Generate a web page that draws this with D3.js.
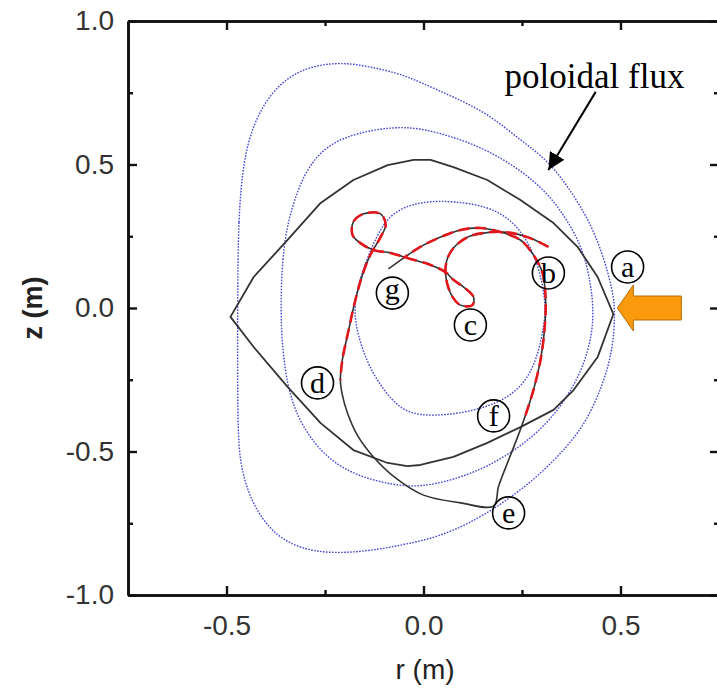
<!DOCTYPE html>
<html>
<head>
<meta charset="utf-8">
<script src="https://cdn.jsdelivr.net/npm/d3@7"></script>
<style>
  html, body { margin: 0; padding: 0; background: #fff; overflow: hidden; }
</style>
</head>
<body>
<div id="chart"></div>
<script>
// axis ticks
const rTicks = [-0.5, 0, 0.5];
const rMinor = [-0.25, 0.25];
const zTicks = [-1, -0.5, 0, 0.5, 1];
const zMinor = [-0.75, -0.25, 0.25, 0.75];

// poloidal flux contours [r, z]
const fluxOuter = [
  [-0.472, 0.003], [-0.470, 0.317], [-0.457, 0.516], [-0.431, 0.645], [-0.388, 0.749],
  [-0.330, 0.819], [-0.261, 0.850], [-0.193, 0.854], [-0.135, 0.840], [-0.066, 0.819],
  [-0.008, 0.787], [0.076, 0.735], [0.162, 0.679], [0.246, 0.585], [0.315, 0.516],
  [0.373, 0.411], [0.424, 0.296], [0.457, 0.178], [0.480, 0.063], [0.487, -0.017],
  [0.480, -0.146], [0.457, -0.261], [0.416, -0.390], [0.365, -0.484], [0.289, -0.589],
  [0.203, -0.679], [0.119, -0.749], [0.036, -0.798], [-0.041, -0.822], [-0.109, -0.840],
  [-0.193, -0.854], [-0.279, -0.850], [-0.345, -0.819], [-0.396, -0.763], [-0.439, -0.669],
  [-0.464, -0.554], [-0.472, -0.436]
];
const fluxMiddle = [
  [-0.363, 0.003], [-0.358, 0.178], [-0.345, 0.296], [-0.320, 0.411], [-0.287, 0.505],
  [-0.236, 0.575], [-0.160, 0.613], [-0.076, 0.631], [-0.008, 0.627], [0.076, 0.596],
  [0.162, 0.551], [0.246, 0.481], [0.315, 0.401], [0.365, 0.307], [0.406, 0.202],
  [0.424, 0.087], [0.431, 0.003], [0.429, -0.087], [0.406, -0.206], [0.365, -0.310],
  [0.315, -0.401], [0.246, -0.484], [0.162, -0.554], [0.076, -0.599], [-0.008, -0.624],
  [-0.076, -0.617], [-0.160, -0.589], [-0.228, -0.540], [-0.279, -0.470], [-0.320, -0.380],
  [-0.345, -0.275], [-0.358, -0.146]
];
const fluxInner = [
  [-0.178, 0.003], [-0.160, 0.108], [-0.135, 0.202], [-0.102, 0.296], [-0.066, 0.341],
  [-0.025, 0.362], [0.018, 0.372], [0.076, 0.372], [0.162, 0.355], [0.221, 0.310],
  [0.264, 0.237], [0.292, 0.143], [0.305, 0.063], [0.310, -0.007], [0.305, -0.066],
  [0.292, -0.157], [0.264, -0.251], [0.213, -0.315], [0.145, -0.352], [0.069, -0.372],
  [-0.008, -0.376], [-0.060, -0.352], [-0.105, -0.280], [-0.142, -0.195], [-0.168, -0.090]
];

// lens-shaped boundary
const lens = [
  [-0.490, -0.031], [-0.431, 0.108], [-0.345, 0.237], [-0.261, 0.366], [-0.178, 0.446],
  [-0.091, 0.498], [-0.025, 0.516], [0.018, 0.516], [0.076, 0.491], [0.162, 0.446],
  [0.246, 0.376], [0.330, 0.296], [0.391, 0.213], [0.442, 0.108], [0.482, -0.021],
  [0.442, -0.171], [0.381, -0.286], [0.330, -0.355], [0.246, -0.415], [0.162, -0.470],
  [0.076, -0.519], [-0.008, -0.547], [-0.041, -0.551], [-0.091, -0.540], [-0.178, -0.495],
  [-0.261, -0.401], [-0.345, -0.275], [-0.431, -0.136]
];

// trajectory a -> g
const traj = [
  [0.317, 0.213], [0.264, 0.247], [0.203, 0.265], [0.152, 0.261], [0.112, 0.247],
  [0.076, 0.209], [0.058, 0.160], [0.058, 0.098], [0.074, 0.038], [0.094, 0.010],
  [0.124, 0.010], [0.127, 0.038], [0.102, 0.073], [0.076, 0.098], [0.056, 0.125],
  [0.018, 0.150], [-0.041, 0.174], [-0.084, 0.192], [-0.127, 0.202], [-0.160, 0.226],
  [-0.180, 0.254], [-0.178, 0.300], [-0.152, 0.328], [-0.109, 0.328], [-0.096, 0.289],
  [-0.109, 0.247], [-0.135, 0.185], [-0.155, 0.115], [-0.173, 0.028], [-0.190, -0.077],
  [-0.206, -0.181], [-0.211, -0.251], [-0.206, -0.303], [-0.193, -0.366], [-0.168, -0.443],
  [-0.127, -0.519], [-0.071, -0.592], [0.000, -0.652], [0.094, -0.679], [0.178, -0.690],
  [0.190, -0.624], [0.213, -0.540], [0.239, -0.449], [0.259, -0.373], [0.279, -0.286],
  [0.297, -0.181], [0.307, -0.077], [0.310, 0.028], [0.302, 0.122], [0.279, 0.185],
  [0.246, 0.237], [0.195, 0.265], [0.145, 0.279], [0.094, 0.272], [0.043, 0.247],
  [-0.008, 0.213], [-0.051, 0.174], [-0.089, 0.136]
];
// parts of the trajectory drawn in red (index ranges)
const redRanges = [[0, 31], [43, 56]];

// circled labels
const labels = ['a', 'b', 'c', 'd', 'e', 'f', 'g'];
const labelR = [0.518, 0.317, 0.119, -0.269, 0.216, 0.178, -0.079];
const labelZ = [0.143, 0.122, -0.059, -0.261, -0.714, -0.376, 0.052];

const W = 717, H = 697;
const x = d3.scaleLinear().domain([-0.75, 0.75]).range([128, 719]);
const y = d3.scaleLinear().domain([-1, 1]).range([595, 21]);

const svg = d3.select('#chart').append('svg')
  .attr('width', W).attr('height', H)
  .style('font-family', '"Liberation Sans", Arial, sans-serif');

const defs = svg.append('defs');
defs.append('clipPath').attr('id', 'plotClip')
  .append('rect').attr('x', 128).attr('y', 21).attr('width', 591).attr('height', 574);
defs.append('marker')
  .attr('id', 'arrowHead')
  .attr('viewBox', '0 0 10 10')
  .attr('refX', 10).attr('refY', 5)
  .attr('markerWidth', 17).attr('markerHeight', 17)
  .attr('markerUnits', 'userSpaceOnUse')
  .attr('orient', 'auto')
  .append('path').attr('d', 'M0,0 L10,5 L0,10 Z').attr('fill', '#000');

const plot = svg.append('g').attr('clip-path', 'url(#plotClip)');

const closedLine = d3.line().x(d => x(d[0])).y(d => y(d[1])).curve(d3.curveBasisClosed);
const polyClosed = d3.line().x(d => x(d[0])).y(d => y(d[1])).curve(d3.curveLinearClosed);
const trajLine = d3.line().x(d => x(d[0])).y(d => y(d[1])).curve(d3.curveCatmullRom.alpha(0.5));

[fluxOuter, fluxMiddle, fluxInner].forEach(c => {
  plot.append('path')
    .attr('d', closedLine(c))
    .attr('fill', 'none')
    .attr('stroke', '#4646d4')
    .attr('stroke-width', 1.4)
    .attr('stroke-dasharray', '1.6,1.4');
});

plot.append('path')
  .attr('d', polyClosed(lens))
  .attr('fill', 'none')
  .attr('stroke', '#333')
  .attr('stroke-width', 1.8)
  .attr('stroke-linejoin', 'round');

plot.append('path')
  .attr('d', trajLine(traj))
  .attr('fill', 'none')
  .attr('stroke', '#333')
  .attr('stroke-width', 1.6)
  .attr('stroke-linejoin', 'round');

redRanges.forEach(([i0, i1]) => {
  plot.append('path')
    .attr('d', trajLine(traj.slice(i0, i1 + 1)))
    .attr('fill', 'none')
    .attr('stroke', '#e3161b')
    .attr('stroke-width', 2.6)
    .attr('stroke-dasharray', '11,6');
});

// circled letters
const lab = svg.append('g').selectAll('g.lab')
  .data(labels.map((t, i) => ({t, r: labelR[i], z: labelZ[i]})))
  .enter().append('g')
  .attr('transform', d => `translate(${x(d.r)},${y(d.z)})`);
lab.append('circle').attr('r', 16).attr('fill', 'none').attr('stroke', '#000').attr('stroke-width', 1.6);
lab.append('text')
  .attr('text-anchor', 'middle')
  .attr('dy', d => d.t === 'g' ? '0.2em' : '0.33em')
  .style('font-family', '"Liberation Serif", "Times New Roman", serif')
  .style('font-size', '30px')
  .text(d => d.t);

// poloidal flux annotation
svg.append('text')
  .attr('x', x(0.434)).attr('y', y(0.767))
  .attr('text-anchor', 'middle')
  .style('font-family', '"Liberation Serif", "Times New Roman", serif')
  .style('font-size', '35px')
  .text('poloidal flux');
svg.append('line')
  .attr('x1', x(0.437)).attr('y1', y(0.753))
  .attr('x2', x(0.317)).attr('y2', y(0.481))
  .attr('stroke', '#000').attr('stroke-width', 2)
  .attr('marker-end', 'url(#arrowHead)');

// orange injection arrow
const tx = x(0.492), ty = y(0.0);
const arrowPts = [[0, 0], [16, -23], [16, -12], [64, -12], [64, 12], [16, 12], [16, 23]];
svg.append('polygon')
  .attr('points', arrowPts.map(p => [tx + p[0], ty + p[1]].join(',')).join(' '))
  .attr('fill', '#fb9a0e')
  .attr('stroke', '#b86f00')
  .attr('stroke-width', 1);

// axes
const frame = svg.append('g');
function styleAxis(g) {
  g.select('.domain').attr('stroke', '#111').attr('stroke-width', 2.6);
  g.selectAll('.tick line').attr('stroke', '#111').attr('stroke-width', 2.4);
  g.selectAll('.tick text').attr('fill', '#333').style('font-size', '28px')
    .style('font-family', '"Liberation Sans", Arial, sans-serif');
}
const fmt = d => d.toFixed(1);
frame.append('g').attr('transform', 'translate(0,595)')
  .call(d3.axisBottom(x).tickValues(rTicks).tickSizeInner(-9).tickSizeOuter(0).tickPadding(20).tickFormat(fmt))
  .call(styleAxis);
frame.append('g').attr('transform', 'translate(0,595)')
  .call(d3.axisBottom(x).tickValues(rMinor).tickSizeInner(-5).tickSizeOuter(0).tickFormat(''))
  .call(styleAxis);
frame.append('g').attr('transform', 'translate(0,21)')
  .call(d3.axisTop(x).tickValues(rTicks).tickSizeInner(-9).tickSizeOuter(0).tickFormat(''))
  .call(styleAxis);
frame.append('g').attr('transform', 'translate(0,21)')
  .call(d3.axisTop(x).tickValues(rMinor).tickSizeInner(-5).tickSizeOuter(0).tickFormat(''))
  .call(styleAxis);
frame.append('g').attr('transform', 'translate(128,0)')
  .call(d3.axisLeft(y).tickValues(zTicks).tickSizeInner(-9).tickSizeOuter(0).tickPadding(14).tickFormat(fmt))
  .call(styleAxis);
frame.append('g').attr('transform', 'translate(128,0)')
  .call(d3.axisLeft(y).tickValues(zMinor).tickSizeInner(-5).tickSizeOuter(0).tickFormat(''))
  .call(styleAxis);
frame.append('g').attr('transform', 'translate(719,0)')
  .call(d3.axisRight(y).tickValues(zTicks).tickSizeInner(-9).tickSizeOuter(0).tickFormat(''))
  .call(styleAxis);
frame.append('g').attr('transform', 'translate(719,0)')
  .call(d3.axisRight(y).tickValues(zMinor).tickSizeInner(-5).tickSizeOuter(0).tickFormat(''))
  .call(styleAxis);

// axis titles
svg.append('text')
  .attr('x', 425).attr('y', 679)
  .attr('text-anchor', 'middle')
  .attr('fill', '#222')
  .style('font-size', '28px')
  .text('r (m)');
svg.append('text')
  .attr('transform', 'translate(42,308) rotate(-90)')
  .attr('text-anchor', 'middle')
  .attr('fill', '#222')
  .style('font-size', '27px')
  .style('font-weight', 'bold')
  .text('z (m)');
</script>
</body>
</html>
